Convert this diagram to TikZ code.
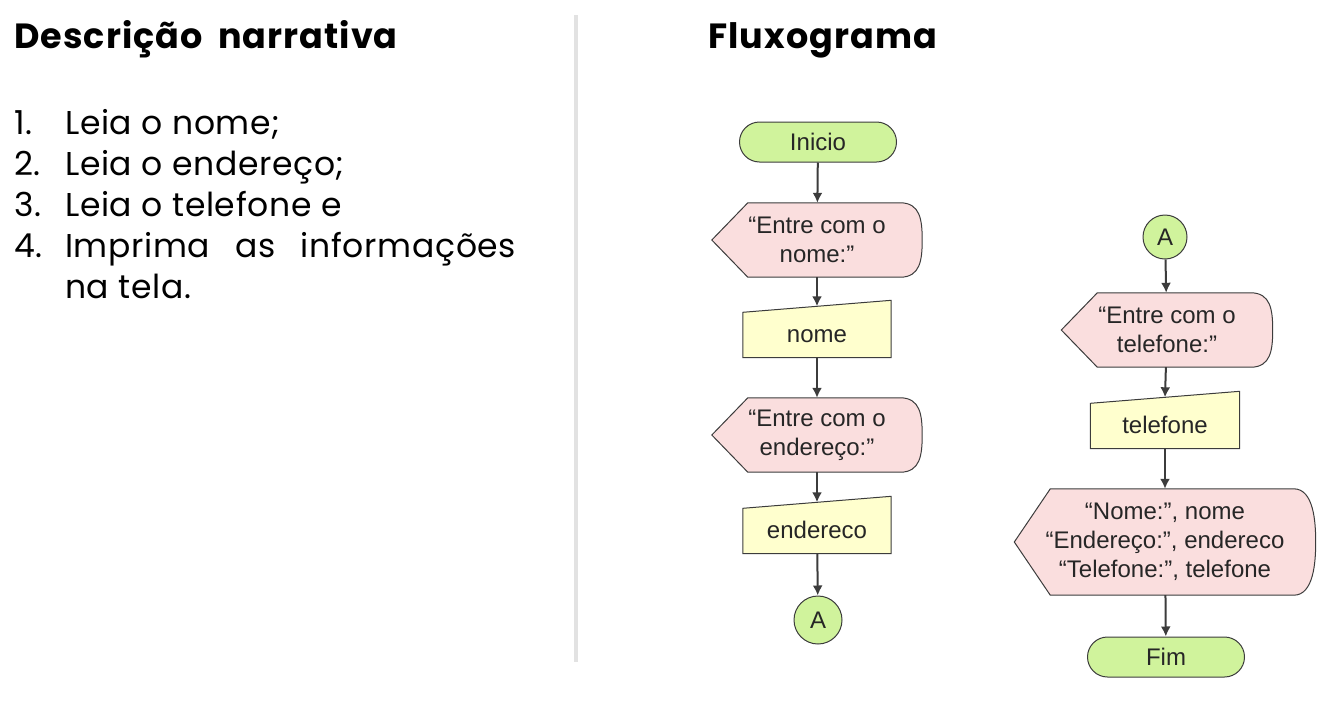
\documentclass[tikz,border=0pt]{standalone}
\usepackage{fontspec}
\setmainfont{Poppins}
\newfontfamily\fluxfont{Liberation Sans}
\newfontfamily\titfont[LetterSpace=3,WordSpace=1.8]{Poppins}
\usetikzlibrary{positioning,backgrounds,arrows.meta}

\definecolor{verde}{RGB}{208,243,156}
\definecolor{rosa}{RGB}{250,222,222}
\definecolor{amarelo}{RGB}{255,255,206}
\definecolor{borda}{RGB}{60,60,60}
\definecolor{cinza}{RGB}{226,226,226}

\tikzset{
  caixa/.style={inner sep=0pt, align=center, text=black!85,
    font=\fluxfont\fontsize{24}{29}\selectfont},
  terminal/.style={caixa, draw=borda, fill=verde, line width=1pt,
    rounded corners=20pt, minimum width=157pt, minimum height=40pt},
  conector/.style={caixa, circle, draw=borda, fill=verde, line width=1pt},
  exibir/.style={caixa, minimum height=74pt},
  entrada/.style={caixa, minimum height=57pt, text height=26pt, text depth=0pt},
  seta/.style={->, draw=borda, line width=2pt},
  forma/.style={draw=borda, line width=1pt},
  texto/.style={anchor=base west, inner sep=0pt,
    font=\fontsize{33}{38}\selectfont\addfontfeature{LetterSpace=2}},
  titulo/.style={anchor=base west, inner sep=0pt,
    font=\titfont\bfseries\fontsize{35}{40}\selectfont}
}

\begin{document}
\begin{tikzpicture}[>={Latex[length=10pt,width=10pt]}, x=1pt, y=-1pt]
    \useasboundingbox (0,0) rectangle (1333,702);

    % Títulos
    \node[titulo] (desc) at (14,48) {Descrição narrativa};
    \node[titulo] (flux) at (708,48) {Fluxograma};

    % Lista de passos
    \foreach \num/\passo/\yy in {1/{Leia o nome;}/134, 2/{Leia o endereço;}/175,
        3/{Leia o telefone e}/216, 4/{\makebox[451pt][s]{Imprima as informações}}/257} {
        \node[texto] (num\num) at (14,\yy) {\num.};
        \node[texto] (passo\num) at (65,\yy) {\passo};
    }
    \node[texto] (passo5) at (65,298) {na tela.};

    % Separador
    \draw[cinza, line width=4pt] (576,15) -- (576,662);

    % Fluxograma - coluna da esquerda
    \node[terminal] (inicio) at (818,142) {Inicio};
    \node[exibir, minimum width=210pt] (msgnome) at (817,240) {“Entre com o\\nome:”};
    \node[entrada, minimum width=148pt] (nome) at (817,329) {nome};
    \node[exibir, minimum width=210pt] (msgend) at (817,435) {“Entre com o\\endereço:”};
    \node[entrada, minimum width=148pt] (endereco) at (817,525) {endereco};
    \node[conector, minimum size=48pt] (a1) at (818,620) {A};

    % Fluxograma - coluna da direita
    \node[conector, minimum size=44pt] (a2) at (1165,237) {A};
    \node[exibir, minimum width=211pt] (msgtel) at (1167,330) {“Entre com o\\telefone:”};
    \node[entrada, minimum width=149pt] (telefone) at (1165,420) {telefone};
    \node[exibir, minimum width=301pt, minimum height=106pt] (saida) at (1165,542)
        {“Nome:”, nome\\“Endereço:”, endereco\\“Telefone:”, telefone};
    \node[terminal] (fim) at (1166,657) {Fim};

    % Formas de fundo
    \begin{scope}[on background layer]
        \foreach \n in {msgnome,msgend,msgtel,saida}
            \draw[forma, fill=rosa] (\n.west) -- ([xshift=36pt]\n.north west)
                -- ([xshift=-22pt]\n.north east)
                .. controls ([xshift=-2pt]\n.north east) and ([yshift=20pt]\n.east) .. (\n.east)
                .. controls ([yshift=-20pt]\n.east) and ([xshift=-2pt]\n.south east) .. ([xshift=-22pt]\n.south east)
                -- ([xshift=36pt]\n.south west) -- cycle;
        \foreach \n in {nome,endereco,telefone}
            \draw[forma, fill=amarelo] ([yshift=-12pt]\n.north west) -- (\n.north east)
                -- (\n.south east) -- (\n.south west) -- cycle;
    \end{scope}

    % Setas
    \draw[seta] (inicio) -- (msgnome);
    \draw[seta] (msgnome) -- ([yshift=-6pt]nome.north);
    \draw[seta] (nome) -- (msgend);
    \draw[seta] (msgend) -- ([yshift=-6pt]endereco.north);
    \draw[seta] (endereco) -- (a1);
    \draw[seta] (a2) -- (msgtel);
    \draw[seta] (msgtel) -- ([yshift=-6pt]telefone.north);
    \draw[seta] (telefone) -- (saida);
    \draw[seta] (saida) -- (fim);
\end{tikzpicture}
\end{document}
